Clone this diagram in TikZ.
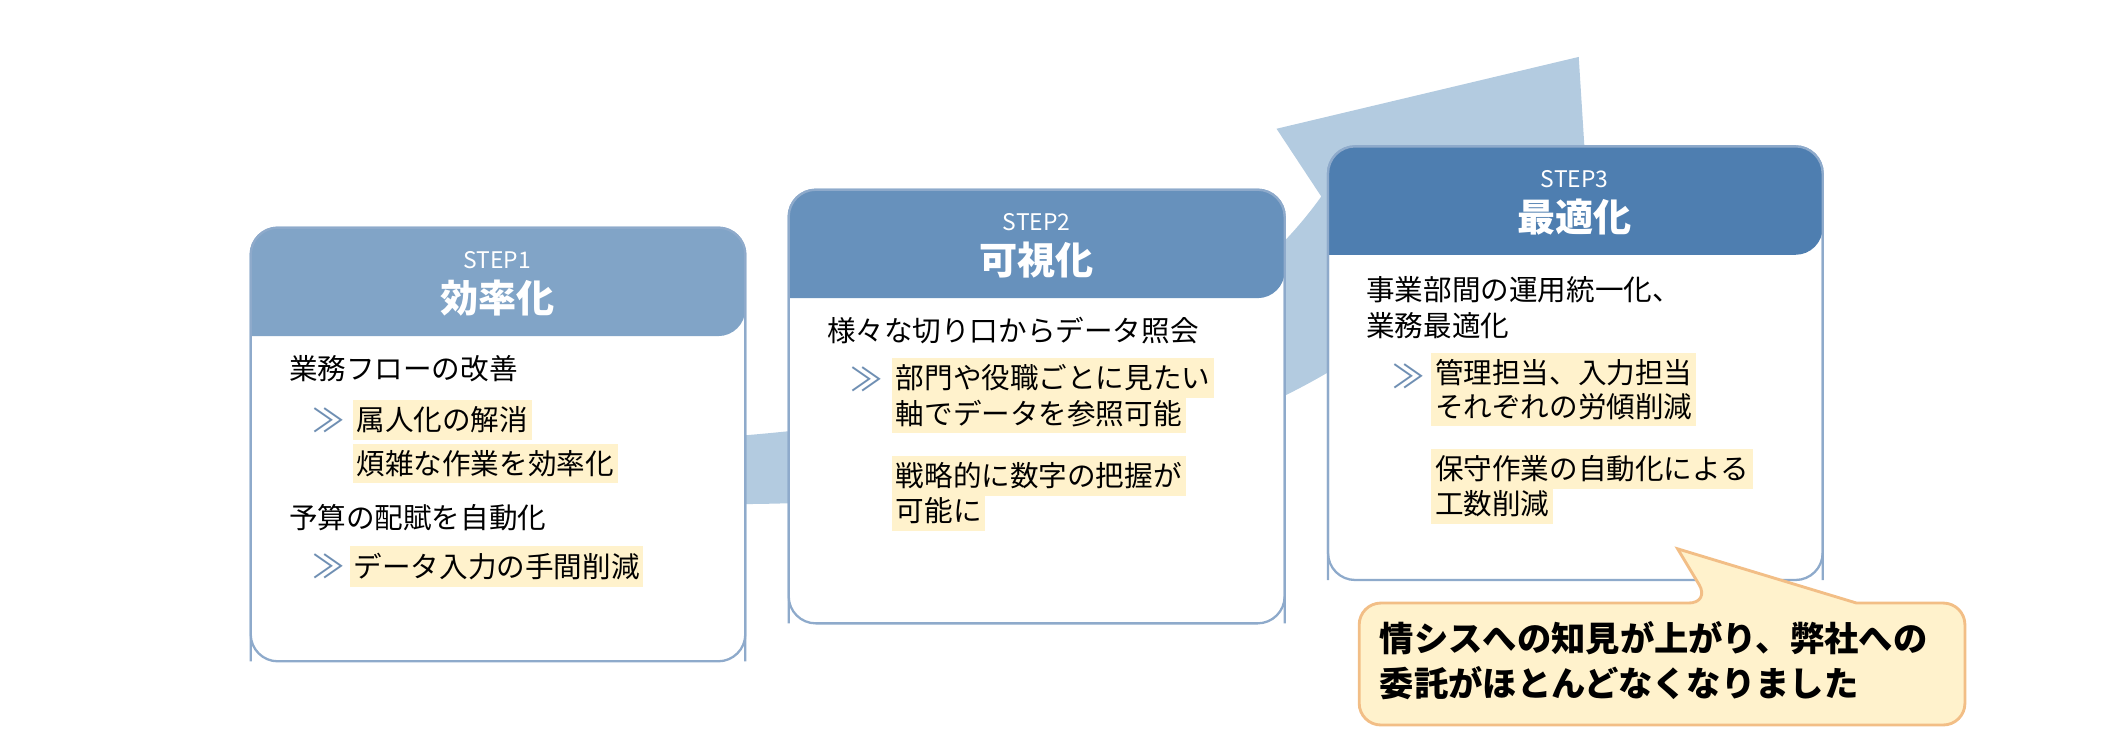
\documentclass[tikz,border=0pt]{standalone}
\usepackage{fontspec}
\setmainfont{Noto Sans CJK JP}
\definecolor{arrowbg}{HTML}{B3CBE0}
\definecolor{h1}{HTML}{81A4C7}
\definecolor{h2}{HTML}{6791BC}
\definecolor{h3}{HTML}{4E7EB0}
\definecolor{bord}{HTML}{8EAACB}
\definecolor{hl}{HTML}{FFF2CC}
\definecolor{callb}{HTML}{F2BE86}
\definecolor{chev}{HTML}{6F8FB3}
\begin{document}
\begin{tikzpicture}[x=0.025cm,y=-0.025cm,
  body/.style={anchor=west,inner sep=0pt,font=\fontsize{15}{18}\selectfont},
  hlt/.style={anchor=west,fill=hl,inner xsep=2pt,inner ysep=3.5pt,font=\fontsize{15}{18}\selectfont},
  chv/.style={anchor=west,inner sep=0pt,text=chev,font=\fontsize{17}{18}\selectfont},
  stp/.style={text=white,font=\fontsize{12}{14}\selectfont},
  ttl/.style={text=white,font=\fontsize{20}{24}\selectfont\bfseries},
  box/.style={draw=bord,line width=1.2pt,fill=white,rounded corners=0.5cm}]
\useasboundingbox (0,0) rectangle (1560,548);
% background arrow
\fill[arrowbg] (540,322) .. controls (760,305) and (900,250) .. (975,145)
  -- (942,95) -- (1165,42) -- (1175,200) -- (1090,180)
  .. controls (1000,300) and (800,372) .. (540,372) -- cycle;
% boxes
\newcommand\stepbox[6]{%
  \draw[box] (#1,#2) rectangle (#3,#4);
  \fill[#6,rounded corners=0.5cm] (#1,#5) -- (#1,#2) -- (#3,#2) -- (#3,#5) [sharp corners]-- cycle;
  \draw[bord,line width=1.2pt,rounded corners=0.5cm] (#1,#4) -- (#1,#2) -- (#3,#2) -- (#3,#4);
}
\stepbox{185}{168}{550}{488}{248}{h1}
\stepbox{582}{140}{948}{460}{220}{h2}
\stepbox{980}{108}{1345}{428}{188}{h3}
\node[stp] (s1) at (367,192) {STEP1};
\node[ttl] (t1) at (367,220) {効率化};
\node[stp] (s2) at (765,164) {STEP2};
\node[ttl] (t2) at (765,192) {可視化};
\node[stp] (s3) at (1162,132) {STEP3};
\node[ttl] (t3) at (1162,160) {最適化};
% box1
\node[body] (a1) at (213,272) {業務フローの改善};
\node[chv] (c1) at (230,310) {≫};
\node[hlt] (a2) at (260,310) {属人化の解消};
\node[hlt] (a3) at (260,342) {煩雑な作業を効率化};
\node[body] (a4) at (213,382) {予算の配賦を自動化};
\node[chv] (c2) at (230,418) {≫};
\node[hlt] (a5) at (258,418) {データ入力の手間削減};
% box2
\node[body] (b1) at (610,244) {様々な切り口からデータ照会};
\node[chv] (c3) at (627,280) {≫};
\node[hlt] (b2) at (658,279) {部門や役職ごとに見たい};
\node[hlt] (b3) at (658,305) {軸でデータを参照可能};
\node[hlt] (b4) at (658,351) {戦略的に数字の把握が};
\node[hlt] (b5) at (658,377) {可能に};
% box3
\node[body] (d1) at (1008,214) {事業部間の運用統一化、};
\node[body] (d2) at (1008,240) {業務最適化};
\node[chv] (c4) at (1027,278) {≫};
\node[hlt] (d3) at (1056,275) {管理担当、入力担当};
\node[hlt] (d4) at (1056,300) {それぞれの労傾削減};
\node[hlt] (d5) at (1056,346) {保守作業の自動化による};
\node[hlt] (d6) at (1056,372) {工数削減};
% callout
\draw[fill=hl,draw=callb,line width=1.5pt,rounded corners=0.4cm]
  (1003,445) -- (1262,445) [sharp corners]-- (1238,405) -- (1370,445) [rounded corners=0.4cm]
  -- (1450,445) -- (1450,535) -- (1003,535) -- cycle;
\node[anchor=west,inner sep=0pt,font=\fontsize{18}{22}\selectfont\bfseries] (e1) at (1018,471) {情シスへの知見が上がり、弊社への};
\node[anchor=west,inner sep=0pt,font=\fontsize{18}{22}\selectfont\bfseries] (e2) at (1018,504) {委託がほとんどなくなりました};
\end{tikzpicture}
\end{document}
